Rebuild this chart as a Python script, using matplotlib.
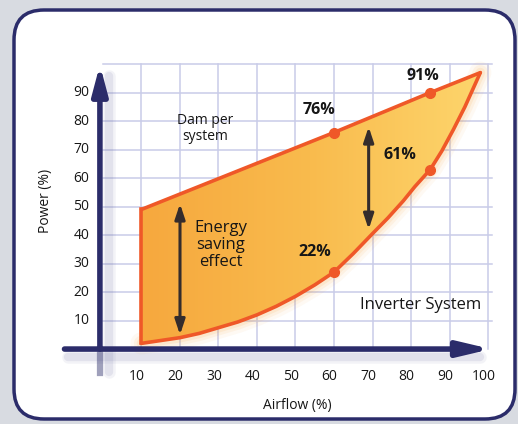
import matplotlib
matplotlib.use('Agg')
import matplotlib.pyplot as plt
import numpy as np
from matplotlib.patches import FancyBboxPatch, Polygon, FancyArrowPatch
from matplotlib.colors import LinearSegmentedColormap

# ---------------- data ----------------
x_ticks = [10, 20, 30, 40, 50, 60, 70, 80, 90, 100]
y_ticks = [10, 20, 30, 40, 50, 60, 70, 80, 90]
grid_x = [10, 20, 30, 40, 50, 60, 70, 80, 90, 100]
grid_y = [10, 20, 30, 40, 50, 60, 70, 80, 90, 100]

damper_x = [10, 60, 85, 98]
damper_y = [49, 76, 90, 97]
inverter_x = [10, 15, 20, 25, 30, 35, 40, 45, 50, 55, 60, 65, 70, 74, 78, 81, 85, 88, 91, 94, 98]
inverter_y = [2, 3, 4, 5.5, 7.5, 9.5, 12, 15, 18.5, 22.5, 27, 33.5, 40.5, 46, 52, 57, 63, 69.5, 77, 85, 97]

damper_dot_x = [60, 85]
damper_dot_y = [76, 90]
inverter_dot_x = [60, 85]
inverter_dot_y = [27, 63]

pct_labels = ['76%', '91%', '61%', '22%']
pct_x = [56, 83, 77, 55]
pct_y = [84, 96, 68, 34]

saving_arrows_x = [20, 69]
saving_arrows_top = [51, 78]
saving_arrows_bottom = [5, 42]

FONT = 'Open Sans'
plt.rcParams['font.family'] = [FONT, 'DejaVu Sans']

navy = '#2b2c6a'
red = '#ef5828'
ink = '#161616'

fig = plt.figure(figsize=(5.18, 4.24), dpi=100)
fig.patch.set_facecolor('#d8dbe1')

panel = FancyBboxPatch((0.14, 0.05), 5.01, 4.09,
                       boxstyle='round,pad=0,rounding_size=0.3',
                       transform=fig.dpi_scale_trans,
                       facecolor='white', edgecolor=navy, linewidth=2.5,
                       zorder=-5)
fig.add_artist(panel)

ax = fig.add_axes([0, 0, 1, 1])
ax.axis('off')
ax.set_zorder(1)

# grid
for gx in grid_x:
    ax.plot([gx, gx], [0, 100], color='#c9cce8', lw=1.1, zorder=1)
for gy in grid_y:
    ax.plot([0, 101], [gy, gy], color='#c9cce8', lw=1.1, zorder=1)

# glow around inverter curve
for lw, a in [(16, 0.06), (11, 0.09), (7, 0.12)]:
    ax.plot(inverter_x, inverter_y, color='#f6a23a', lw=lw, alpha=a,
            solid_capstyle='round', zorder=2)

# gradient fill
verts = list(zip(damper_x, damper_y)) + list(zip(inverter_x[::-1], inverter_y[::-1]))
poly = Polygon(verts, closed=True, facecolor='none', edgecolor='none')
ax.add_patch(poly)
cmap = LinearSegmentedColormap.from_list('g', ['#f6a83e', '#f9bb4d', '#fdd56c'])
grad = np.linspace(0, 1, 256).reshape(1, -1)
im = ax.imshow(grad, extent=[10, 98, 0, 100], aspect='auto', cmap=cmap,
               origin='lower', zorder=3)
im.set_clip_path(poly)

# boundary lines
ax.plot(damper_x, damper_y, color=red, lw=2.6, zorder=4, solid_capstyle='round')
ax.plot(inverter_x, inverter_y, color=red, lw=2.6, zorder=4, solid_capstyle='round')
ax.plot([inverter_x[0], damper_x[0]], [inverter_y[0], damper_y[0]], color=red,
        lw=2.6, zorder=4)
ax.plot(damper_dot_x, damper_dot_y, 'o', ms=7, color=red, zorder=5)
ax.plot(inverter_dot_x, inverter_dot_y, 'o', ms=7, color=red, zorder=5)

# axes arrows (with soft shadow)
for lw, a in [(9, 0.08), (6, 0.12)]:
    ax.plot([-9, 98], [-2.8, -2.8], color='#6c6ea0', lw=lw, alpha=a, zorder=5,
            solid_capstyle='round')
    ax.plot([1.5, 1.5], [-8, 96], color='#6c6ea0', lw=lw, alpha=a, zorder=5,
            solid_capstyle='round')
ax.plot([-0.8, -0.8], [-8.5, 0], color=navy, lw=4.5, alpha=0.45, zorder=6)
xa = FancyArrowPatch((-10, 0), (100.8, 0),
                     arrowstyle='-|>,head_length=1.9,head_width=0.45',
                     mutation_scale=10, lw=4, color=navy, zorder=6,
                     shrinkA=0, shrinkB=0)
ax.add_patch(xa)
ya = FancyArrowPatch((-0.8, 0), (-0.8, 99.8),
                     arrowstyle='-|>,head_length=1.7,head_width=0.45',
                     mutation_scale=10, lw=4, color=navy, zorder=6,
                     shrinkA=0, shrinkB=0)
ax.add_patch(ya)

# energy-saving double arrows
for sx, st, sb in zip(saving_arrows_x, saving_arrows_top, saving_arrows_bottom):
    arr = FancyArrowPatch((sx, sb), (sx, st),
                          arrowstyle='<|-|>,head_length=0.9,head_width=0.3',
                          mutation_scale=10, lw=2.2, color='#342c2c', zorder=7,
                          shrinkA=0, shrinkB=0)
    ax.add_patch(arr)

# tick labels
for t in x_ticks:
    ax.text(t - 1.2, -9.5, str(t), ha='center', va='center', fontsize=10,
            color=ink, zorder=8)
for t in y_ticks:
    ax.text(-3.5, t, str(t), ha='right', va='center', fontsize=10,
            color=ink, zorder=8)

ax.text(-15, 52, 'Power (%)', rotation=90, ha='center', va='center',
        fontsize=10, color=ink)
ax.text(50.5, -19.8, 'Airflow (%)', ha='center', va='center',
        fontsize=10, color=ink)

# annotations
for lab, px, py in zip(pct_labels, pct_x, pct_y):
    ax.text(px, py, lab, ha='center', va='center', fontsize=11.5,
            fontweight='bold', color=ink, zorder=8)
ax.text(26.5, 77.5, 'Dam per\nsystem', ha='center', va='center', fontsize=10,
        color=ink, linespacing=1.05, zorder=8)
ax.text(30.5, 36.5, 'Energy\nsaving\neffect', ha='center', va='center',
        fontsize=12, color=ink, linespacing=1.05, zorder=8)
ax.text(82.5, 15.5, 'Inverter System', ha='center', va='center', fontsize=12,
        color=ink, zorder=8)

ax.set_xlim(-26.75, 107.79)
ax.set_ylim(-26.3, 122.5)

fig.savefig('out.png', dpi=100, facecolor=fig.get_facecolor())
